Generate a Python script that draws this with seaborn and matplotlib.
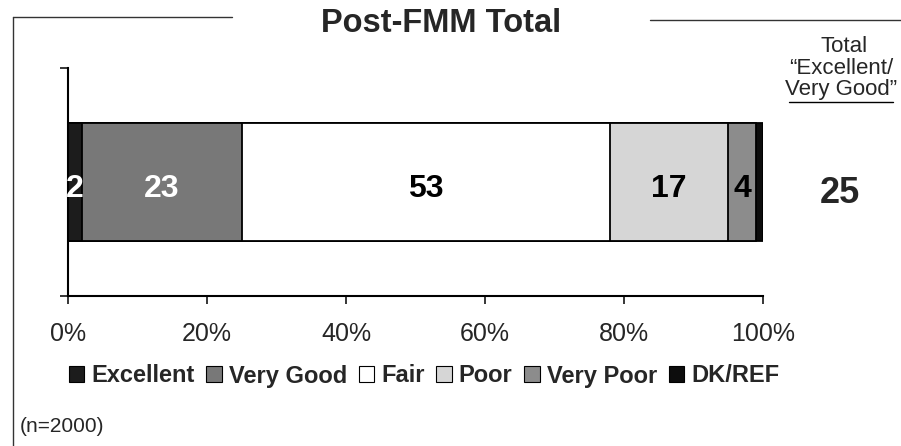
import matplotlib
matplotlib.use("Agg")
import matplotlib.pyplot as plt
import matplotlib.patches as mpatches
import matplotlib.lines as mlines
import pandas as pd
import seaborn as sns

# data
categories = ["Excellent", "Very Good", "Fair", "Poor", "Very Poor", "DK/REF"]
values = [2, 23, 53, 17, 4, 1]
colors = ["#1c1c1c", "#787878", "#ffffff", "#d6d6d6", "#8c8c8c", "#0d0d0d"]
label_colors = ["white", "white", "black", "black", "black", "none"]
xticks = [0, 20, 40, 60, 80, 100]
xtick_labels = ["0%", "20%", "40%", "60%", "80%", "100%"]
row = "Post-FMM Total"

sns.set_style("white")
plt.rcParams["font.family"] = ["Liberation Sans", "DejaVu Sans"]

df = pd.DataFrame({"category": categories, "value": values})
df["cum"] = df["value"].cumsum()
df["start"] = df["cum"] - df["value"]

fig = plt.figure(figsize=(9.01, 4.46), dpi=100)
ax = fig.add_axes([68 / 901, 1 - 296 / 446, 695 / 901, 228 / 446])

# stacked bar: draw cumulative totals from the longest down
for i in range(len(df) - 1, -1, -1):
    sns.barplot(x=[df["cum"][i]], y=[row], color=colors[i], orient="h",
                width=0.52, edgecolor="black", linewidth=1.3, saturation=1,
                ax=ax)

for i, r in df.iterrows():
    if label_colors[i] == "none":
        continue
    ax.text(r["start"] + r["value"] / 2, 0.03, str(r["value"]), ha="center",
            va="center", fontsize=23, fontweight="bold", color=label_colors[i])

# total excellent / very good at the right
top2 = values[0] + values[1]
ax.text(111, 0.05, str(top2), ha="center", va="center", fontsize=26,
        fontweight="bold", clip_on=False)

ax.set_xlim(0, 100)
ax.set_ylim(0.5, -0.5)
ax.set_xticks(xticks)
ax.set_xticklabels(xtick_labels, fontsize=18)
ax.set_yticks([-0.5, 0.5])
ax.set_yticklabels([])
ax.set_xlabel("")
ax.set_ylabel("")
ax.tick_params(axis="x", direction="out", length=6, width=1.3, pad=13,
               bottom=True)
ax.tick_params(axis="y", direction="out", length=6, width=1.3, left=True)
sns.despine(ax=ax)
for s in ["left", "bottom"]:
    ax.spines[s].set_linewidth(1.5)
    ax.spines[s].set_color("black")

fig.text(441 / 901, 1 - 24 / 446, row, ha="center", va="center",
         fontsize=23.5, fontweight="bold")
fig.text(844 / 901, 1 - 46 / 446, "Total", ha="center", va="center", fontsize=16)
fig.text(841 / 901, 1 - 68 / 446, "\u201cExcellent/", ha="center", va="center",
         fontsize=16)
fig.text(841 / 901, 1 - 90 / 446, "Very Good\u201d", ha="center", va="center",
         fontsize=16)
fig.add_artist(mlines.Line2D([789 / 901, 893 / 901], [1 - 102 / 446, 1 - 102 / 446],
                             color="black", lw=1))

fig.text(20 / 901, 1 - 426 / 446, "(n=2000)", ha="left", va="center", fontsize=15)

# border lines of the page panel
fig.add_artist(mlines.Line2D([13 / 901, 232 / 901], [1 - 17 / 446, 1 - 17 / 446],
                             color="#333333", lw=1))
fig.add_artist(mlines.Line2D([13 / 901, 13 / 901], [1 - 17 / 446, 0],
                             color="#333333", lw=1))
fig.add_artist(mlines.Line2D([650 / 901, 1], [1 - 20 / 446, 1 - 20 / 446],
                             color="#333333", lw=1))

handles = [mpatches.Patch(facecolor=c, edgecolor="black", linewidth=0.8)
           for c in colors]
fig.legend(handles, categories, loc="center", bbox_to_anchor=(424 / 901, 1 - 376 / 446),
           ncol=6, frameon=False, handlelength=0.65, handleheight=0.65,
           handletextpad=0.3, columnspacing=0.5,
           prop={"size": 17, "weight": "bold"})

fig.savefig("out.png", dpi=100)
